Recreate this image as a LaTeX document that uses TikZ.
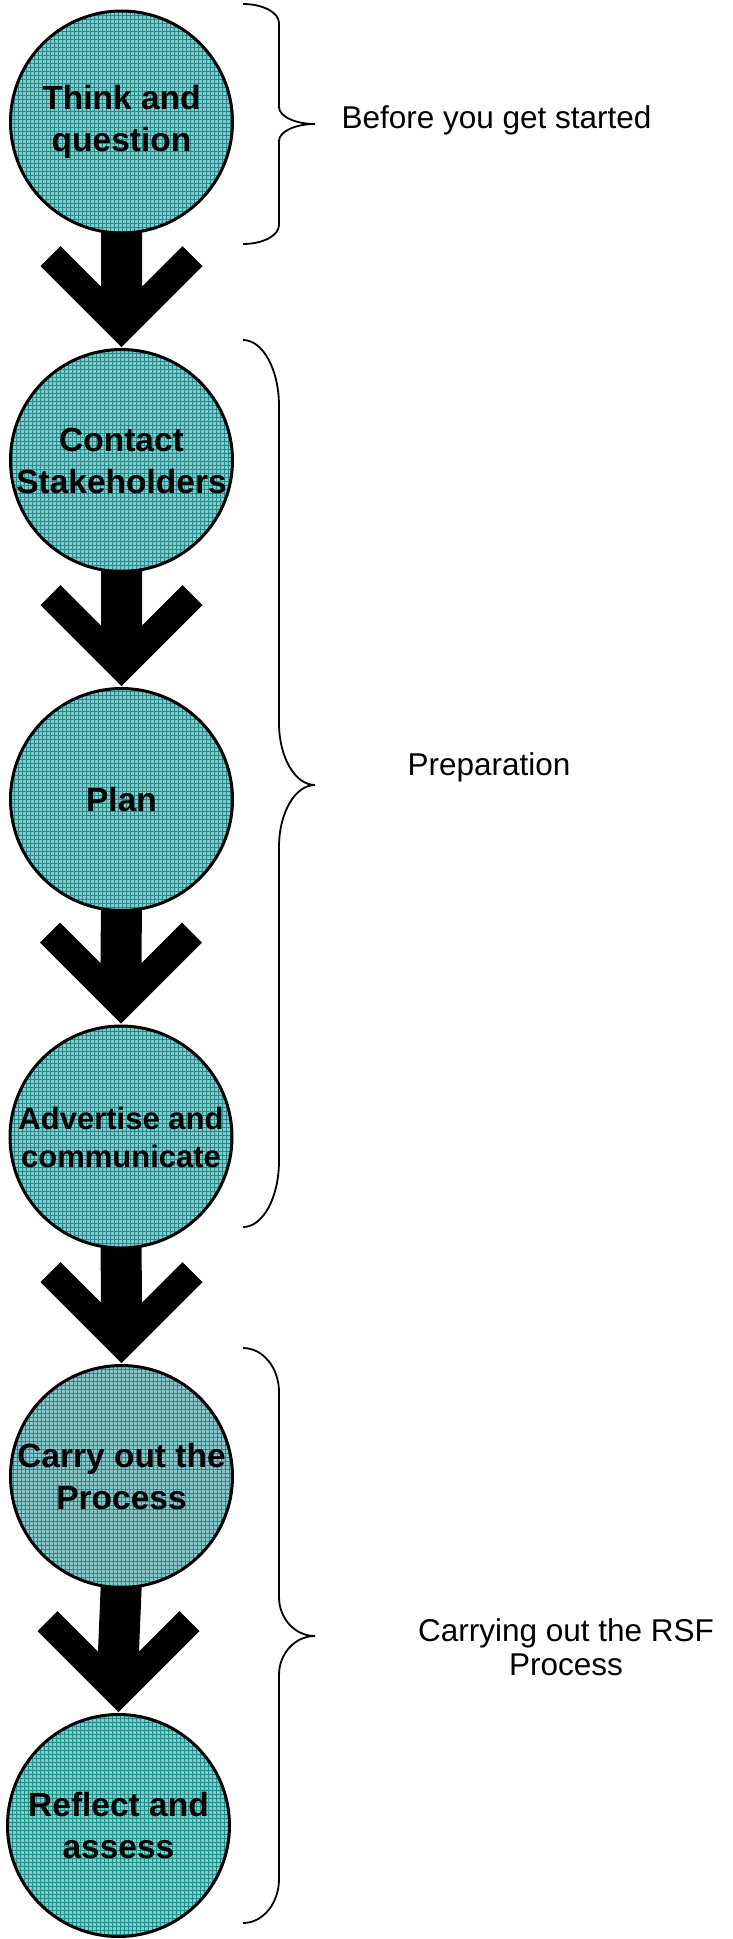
\documentclass[tikz,border=0pt]{standalone}
\usepackage{fontspec}
\setmainfont{Liberation Sans}
\usetikzlibrary{calc}
\definecolor{cellc}{RGB}{136,200,198}
\definecolor{gridc}{RGB}{30,140,138}
\pgfdeclarelayer{background}
\pgfsetlayers{background,main}
\tikzset{
  stage/.style={circle, draw=black, line width=3pt, fill=cellc,
    minimum size=222pt, inner sep=0pt, align=center,
    font=\fontsize{33.5}{42}\selectfont\bfseries,
    path picture={\draw[gridc, line width=0.6pt]
      (path picture bounding box.south west) grid[step=4pt]
      (path picture bounding box.north east);}},
  phase/.style={font=\fontsize{31.5}{33.5}\selectfont, align=center, inner sep=0pt},
  bracel/.style={draw=black, line width=1.8pt},
  chev/.style={fill=black}
}
\newcommand{\chevarrow}[2]{%
  \fill[chev] ($(#1.south)+(-20.5,-10)$) -- ($(#2.north)+(-20.5,-61.5)$)
    -- ($(#2.north)+(-61,-102)$) -- ($(#2.north)+(-81,-82)$)
    -- ($(#2.north)+(0,-1)$) -- ($(#2.north)+(81,-82)$)
    -- ($(#2.north)+(61,-102)$) -- ($(#2.north)+(20.5,-61.5)$)
    -- ($(#1.south)+(20.5,-10)$) -- cycle;}
% args: ytop, ymid, ybot, h at ends, h at middle
\newcommand{\curlybr}[5]{%
  \draw[bracel] (243,#1) .. controls (263,#1) and (279,#1+0.45*#4) .. (279,#1+#4)
    -- (279,#2-#5) .. controls (279,#2-0.45*#5) and (295,#2) .. (315,#2)
    .. controls (295,#2) and (279,#2+0.45*#5) .. (279,#2+#5)
    -- (279,#3-#4) .. controls (279,#3-0.45*#4) and (263,#3) .. (243,#3);}
\begin{document}
\begin{tikzpicture}[x=1pt,y=-1pt]
\useasboundingbox (0,0) rectangle (732,1939);
\node[stage] (c1) at (121.5,122) {Think and\\question};
\node[stage] (c2) at (121.5,460.5) {Contact\\Stakeholders};
\node[stage] (c3) at (121.5,799.5) {Plan};
\node[stage, font=\fontsize{31}{38}\selectfont\bfseries] (c4) at (121,1137) {Advertise and\\communicate};
\node[stage] (c5) at (121.5,1476.5) {Carry out the\\Process};
\node[stage] (c6) at (118.5,1825.5) {Reflect and\\assess};
\begin{pgfonlayer}{background}
\chevarrow{c1}{c2}
\chevarrow{c2}{c3}
\chevarrow{c3}{c4}
\chevarrow{c4}{c5}
\chevarrow{c5}{c6}
\end{pgfonlayer}
\curlybr{4}{124}{244}{19}{17}
\curlybr{340}{785}{1227}{66}{62}
\curlybr{1348}{1636}{1923}{44}{39}
\node[phase, anchor=base] (t1) at (496.5,128) {Before you get started};
\node[phase, anchor=base] (t2) at (489,775) {Preparation};
\node[phase] (t3) at (566,1647) {Carrying out the RSF\\Process};
\end{tikzpicture}
\end{document}
